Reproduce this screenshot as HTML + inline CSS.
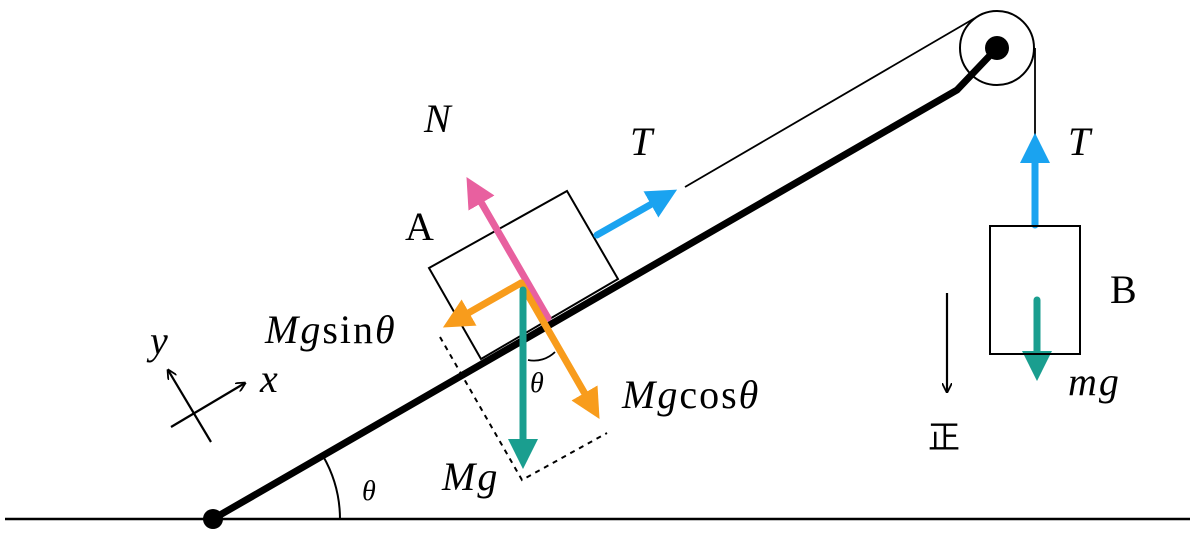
<!DOCTYPE html>
<html><head><meta charset="utf-8"><style>
html,body{margin:0;padding:0;background:#fff;}
svg{display:block}
text{font-family:"Liberation Serif","Noto Serif CJK SC",serif;font-size:40px;fill:#000}
.i{font-style:italic}
</style></head><body>
<svg width="1200" height="536" viewBox="0 0 1200 536" xmlns="http://www.w3.org/2000/svg">
<defs>
<marker id="ah" viewBox="0 0 10 10" refX="5" refY="5" markerWidth="4.3" markerHeight="4.3" orient="auto"><path d="M0,0 L10,5 L0,10 z" fill="context-stroke"/></marker>
<marker id="ak" viewBox="0 0 10 10" refX="9" refY="5" markerWidth="10" markerHeight="10" orient="auto" markerUnits="userSpaceOnUse"><path d="M0,0 L10,5 L0,10" fill="none" stroke="#000" stroke-width="1.8"/></marker>
</defs>
<line x1="5" y1="519" x2="1190" y2="519" stroke="#000" stroke-width="2.5"/>
<polyline points="213,519 957,90 997,48" fill="none" stroke="#000" stroke-width="7"/>
<circle cx="213" cy="519" r="10" fill="#000"/>
<path d="M340,519 A127,127 0 0 0 323,456" fill="none" stroke="#000" stroke-width="2"/>
<text class="i" x="362" y="500" style="font-size:28px">θ</text>
<circle cx="997" cy="48" r="37" fill="none" stroke="#000" stroke-width="2"/>
<circle cx="997" cy="48" r="12" fill="#000"/>
<line x1="685" y1="187" x2="975" y2="18" stroke="#000" stroke-width="1.8"/>
<line x1="1035" y1="48" x2="1035" y2="225" stroke="#000" stroke-width="1.8"/>
<polygon points="429,268 567,191 618,279 481,359" fill="#fff" stroke="#000" stroke-width="2"/>
<polyline points="440,337 522,480 607,433" fill="none" stroke="#000" stroke-width="2" stroke-dasharray="5,5"/>
<path d="M528,360 A30,30 0 0 0 555,352" fill="none" stroke="#000" stroke-width="1.8"/>
<text class="i" x="530" y="392" style="font-size:28px">θ</text>
<g stroke-width="7" fill="none" stroke-linecap="round">
<line x1="548" y1="318" x2="474" y2="190" stroke="#e8609f" marker-end="url(#ah)"/>
<line x1="521" y1="283" x2="456" y2="320" stroke="#f89c1c" marker-end="url(#ah)"/>
<line x1="521" y1="283" x2="592" y2="406" stroke="#f89c1c" marker-end="url(#ah)"/>
<line x1="523" y1="290" x2="523" y2="454" stroke="#1a9e8f" marker-end="url(#ah)"/>
<line x1="597" y1="235" x2="664" y2="197" stroke="#1aa3f0" marker-end="url(#ah)"/>
<line x1="1035" y1="225" x2="1035" y2="148" stroke="#1aa3f0" marker-end="url(#ah)"/>
<line x1="1037" y1="300" x2="1037" y2="366" stroke="#1a9e8f" marker-end="url(#ah)"/>
</g>
<rect x="990" y="226" width="90" height="128" fill="none" stroke="#000" stroke-width="2"/>
<line x1="947" y1="293" x2="947" y2="392" stroke="#000" stroke-width="2.2" marker-end="url(#ak)"/>
<text x="928" y="448" style="font-size:32px;font-family:'Noto Sans CJK JP',sans-serif">正</text>
<line x1="171" y1="427" x2="245" y2="383" stroke="#000" stroke-width="2.2" marker-end="url(#ak)"/>
<line x1="211" y1="442" x2="168" y2="370" stroke="#000" stroke-width="2.2" marker-end="url(#ak)"/>
<text class="i" x="150" y="354">y</text>
<text class="i" x="260" y="392">x</text>
<text class="i" x="424" y="132">N</text>
<text class="i" x="630" y="155">T</text>
<text x="405" y="240">A</text>
<text x="265" y="343" style="letter-spacing:2px"><tspan class="i">Mg</tspan>sin<tspan class="i">θ</tspan></text>
<text x="622" y="408" style="letter-spacing:2px"><tspan class="i">Mg</tspan>cos<tspan class="i">θ</tspan></text>
<text class="i" x="442" y="490" style="letter-spacing:2px">Mg</text>
<text class="i" x="1068" y="155">T</text>
<text x="1110" y="303">B</text>
<text class="i" x="1068" y="395" style="letter-spacing:2px">mg</text>
</svg>
</body></html>
